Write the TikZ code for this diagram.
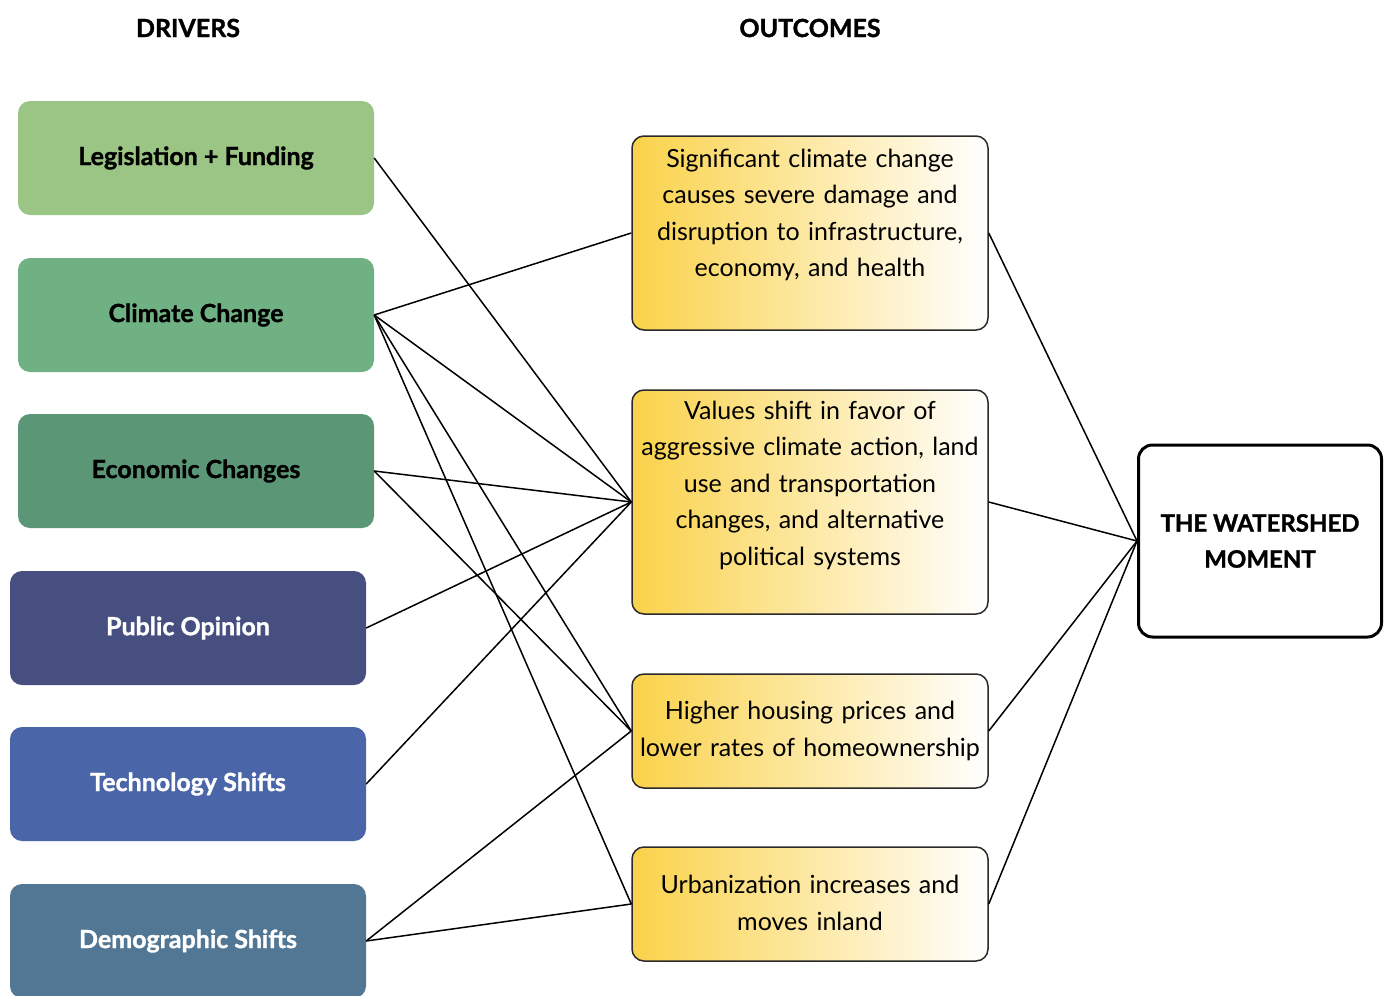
\documentclass[tikz,border=0pt]{standalone}
\usepackage{fontspec}
\setmainfont{Lato}
\newfontfamily\heavyfont{Lato}[BoldFeatures={FakeBold=1.3}]
\definecolor{cleg}{HTML}{9BC584}
\definecolor{cclim}{HTML}{70B184}
\definecolor{cecon}{HTML}{5B9777}
\definecolor{cpub}{HTML}{464F80}
\definecolor{ctech}{HTML}{4A66A8}
\definecolor{cdemo}{HTML}{527795}
\definecolor{cgold}{HTML}{FAD24A}
\definecolor{cborder}{HTML}{2A2A2A}
\tikzset{
  driver/.style={rounded corners=12pt, minimum width=356pt, minimum height=114pt, inner sep=0pt,
    font=\fontsize{25}{29}\heavyfont\bfseries},
  outcome/.style={rounded corners=12pt, draw=cborder, line width=1.5pt, minimum width=356pt,
    inner sep=0pt, left color=cgold, right color=white},
  otext/.style={align=center, text width=354pt, inner sep=0pt,
    font=\fontsize{25}{36.5}\selectfont},
  header/.style={font=\fontsize{25}{29}\heavyfont\bfseries},
  link/.style={line width=1.5pt, black}
}
\begin{document}
\begin{tikzpicture}[x=1pt,y=-1pt]
\useasboundingbox (0,0) rectangle (1385,996);
\fill[white] (0,0) rectangle (1385,996);
\node[header] (hdr) at (188,28) {DRIVERS};
\node[header] (hout) at (810,28) {OUTCOMES};

\node[driver, fill=cleg, text=black] (leg) at (196,158) {Legislation + Funding};
\node[driver, fill=cclim, text=black] (clim) at (196,315) {Climate Change};
\node[driver, fill=cecon, text=black] (econ) at (196,471) {Economic Changes};
\node[driver, fill=cpub, text=white] (pub) at (188,628) {Public Opinion};
\node[driver, fill=ctech, text=white] (tech) at (188,784) {Technology Shifts};
\node[driver, fill=cdemo, text=white] (demo) at (188,941) {Demographic Shifts};

\node[outcome, minimum height=194pt] (o1) at (810,233) {};
\node[otext] (o1t) at ([yshift=18pt]o1.center) {Significant climate change\\causes severe damage and\\disruption to infrastructure,\\economy, and health};
\node[outcome, minimum height=224pt] (o2) at (810,502) {};
\node[otext] (o2t) at ([yshift=17pt]o2.center) {Values shift in favor of\\aggressive climate action, land\\use and transportation\\changes, and alternative\\political systems};
\node[outcome, minimum height=114pt] (o3) at (810,731) {};
\node[otext] (o3t) at (o3.center) {Higher housing prices and\\lower rates of homeownership};
\node[outcome, minimum height=114pt] (o4) at (810,904) {};
\node[otext] (o4t) at ([yshift=1pt]o4.center) {Urbanization increases and\\moves inland};

\node[draw=black, line width=3pt, rounded corners=14pt, minimum width=243pt, minimum height=192pt,
  align=center, font=\fontsize{24}{36}\heavyfont\bfseries] (ws) at (1260,541) {THE WATERSHED\\MOMENT};

\draw[link] (leg.east) -- (o2.west);
\draw[link] (clim.east) -- (o1.west);
\draw[link] (clim.east) -- (o2.west);
\draw[link] (clim.east) -- (o3.west);
\draw[link] (clim.east) -- (o4.west);
\draw[link] (econ.east) -- (o2.west);
\draw[link] (econ.east) -- (o3.west);
\draw[link] (pub.east) -- (o2.west);
\draw[link] (tech.east) -- (o2.west);
\draw[link] (demo.east) -- (o3.west);
\draw[link] (demo.east) -- (o4.west);
\draw[link] (o1.east) -- (ws.west);
\draw[link] (o2.east) -- (ws.west);
\draw[link] (o3.east) -- (ws.west);
\draw[link] (o4.east) -- (ws.west);
\end{tikzpicture}
\end{document}
